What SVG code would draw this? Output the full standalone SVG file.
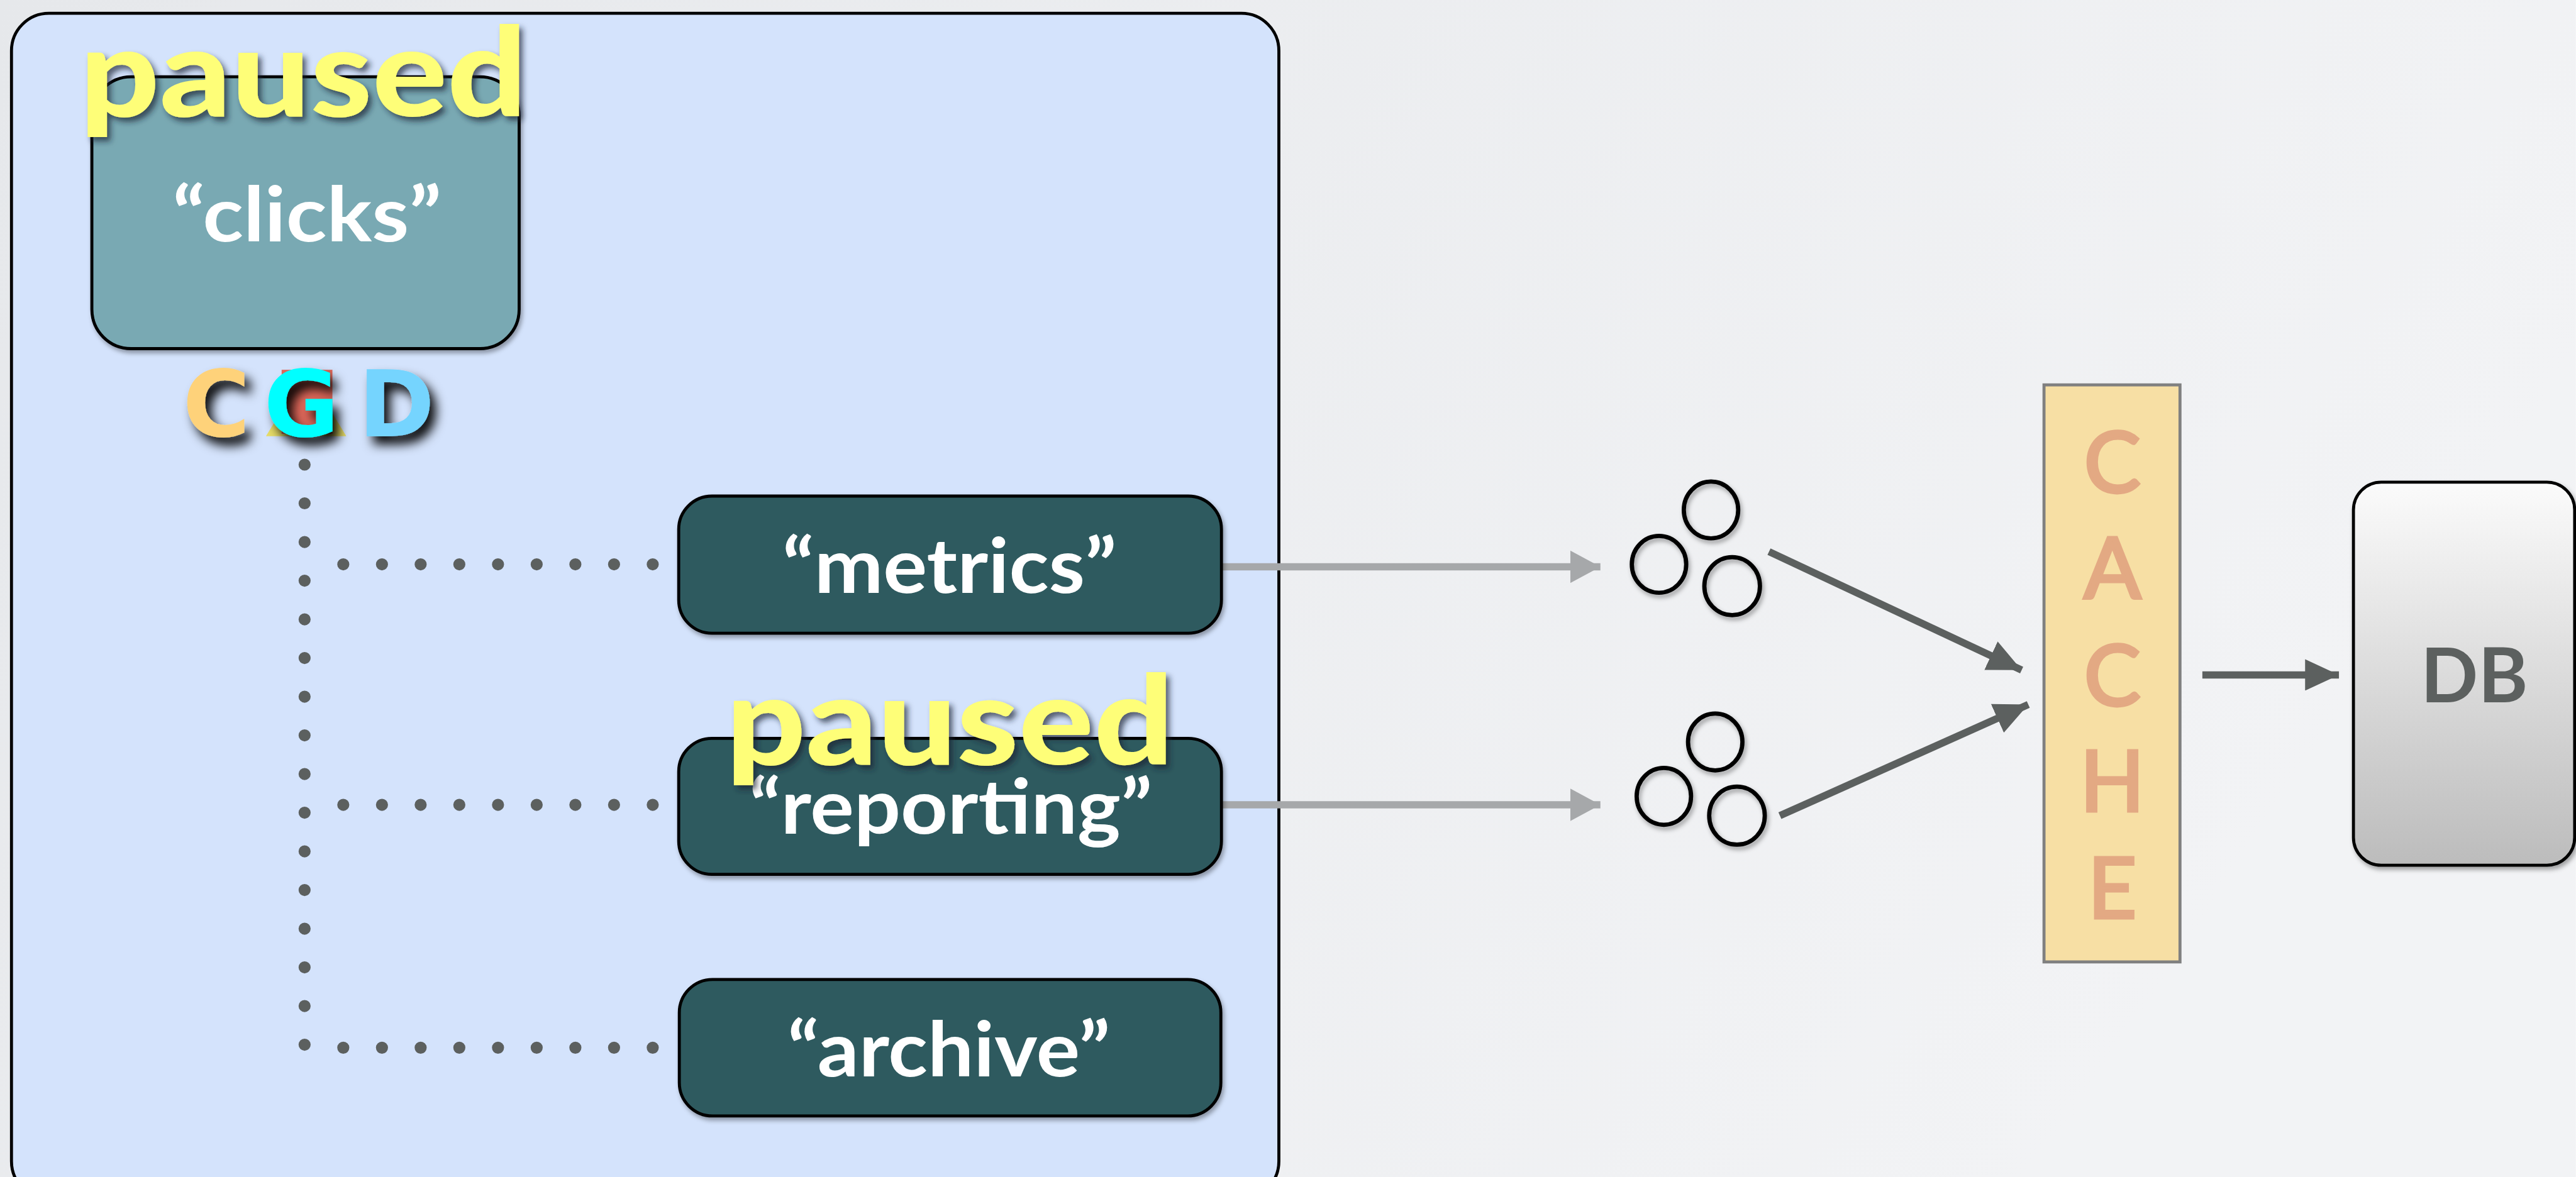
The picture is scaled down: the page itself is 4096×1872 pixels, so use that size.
<svg xmlns="http://www.w3.org/2000/svg" width="4096" height="1872" viewBox="0 0 4096 1872">
<defs>
<style>
.lbl{font-family:Lato,"Open Sans","Liberation Sans",sans-serif;font-weight:bold;fill:#ffffff;text-anchor:middle}
.paused{font-family:Lato,"Open Sans","Liberation Sans",sans-serif;font-weight:900;fill:#fefe78;text-anchor:start}
.cache{font-family:Lato,"Open Sans","Liberation Sans",sans-serif;font-weight:normal;fill:#e3a983;stroke:#e3a983;stroke-width:5;text-anchor:middle;font-size:140px}
.topic{fill:#2f5a5f;stroke:#000;stroke-width:5}
.dots{stroke:#5c605f;stroke-width:20;stroke-linecap:round;stroke-dasharray:0 64;fill:none}
.grey{stroke:#a6a8aa;stroke-width:12;fill:none}
.dark{stroke:#5c605f;stroke-width:12;fill:none}
.cg{fill:none;stroke:#000;stroke-width:7}
</style>
<linearGradient id="bg" x1="0" y1="0" x2="1" y2="0.3">
<stop offset="0" stop-color="#e6e8eb"/>
<stop offset="1" stop-color="#f2f3f5"/>
</linearGradient>
<linearGradient id="dbg" x1="0" y1="0" x2="0" y2="1">
<stop offset="0" stop-color="#fbfbfb"/>
<stop offset="1" stop-color="#bcbcbc"/>
</linearGradient>
<filter id="sh" x="-10%" y="-10%" width="130%" height="130%">
<feDropShadow dx="3" dy="5" stdDeviation="4" flood-color="#000" flood-opacity="0.35"/>
</filter>
<filter id="psh" x="-10%" y="-20%" width="130%" height="150%">
<feDropShadow dx="6" dy="7" stdDeviation="5" flood-color="#1a2430" flood-opacity="0.7"/>
</filter>
<filter id="cgdsh" x="-40%" y="-40%" width="190%" height="190%">
<feGaussianBlur in="SourceAlpha" stdDeviation="9"/>
<feOffset dx="10" dy="14" result="b"/>
<feFlood flood-color="#000" flood-opacity="0.95"/>
<feComposite in2="b" operator="in"/>
<feMerge><feMergeNode/><feMergeNode in="SourceGraphic"/></feMerge>
</filter>
<marker id="gh" viewBox="0 0 50 54" refX="50" refY="27" markerWidth="50" markerHeight="54" markerUnits="userSpaceOnUse" orient="auto">
<path d="M0,0 L50,27 L0,54 z" fill="#a6a8aa"/>
</marker>
<marker id="dh" viewBox="0 0 56 52" refX="56" refY="26" markerWidth="56" markerHeight="52" markerUnits="userSpaceOnUse" orient="auto">
<path d="M0,0 L56,26 L0,52 z" fill="#5c605f"/>
</marker>
</defs>
<g transform="scale(0.961)">
<rect x="0" y="0" width="4262" height="1948" fill="url(#bg)"/>

<g id="consumer-group">
<rect x="19" y="22" width="2097" height="1962" rx="62" ry="62" fill="#d4e3fc" stroke="#000" stroke-width="5"/>
</g>

<g id="clicks" filter="url(#sh)">
<rect x="152" y="127" width="707" height="450" rx="65" ry="65" fill="#79a9b3" stroke="#000" stroke-width="5"/>
<text class="lbl" x="508" y="400" font-size="126" textLength="445" lengthAdjust="spacingAndGlyphs">“clicks”</text>
</g>

<g id="cgd">
<polygon points="440,722 507,613 573,722" fill="#e6dc68"/>
<rect x="466" y="612" width="84" height="106" fill="#e0685a"/>
<g filter="url(#cgdsh)" font-family="'DejaVu Sans',sans-serif" font-weight="bold" font-size="152" text-anchor="middle">
<text x="358" y="722" fill="#fed27a">C</text>
<text x="499" y="722" fill="#00ffff">G</text>
<text x="656" y="722" fill="#75d4fe">D</text>
</g>
</g>

<g id="connectors">
<line class="dots" x1="504" y1="769" x2="504" y2="1731"/>
<line class="dots" x1="568" y1="934" x2="1081" y2="934"/>
<line class="dots" x1="568" y1="1332" x2="1081" y2="1332"/>
<line class="dots" x1="568" y1="1734" x2="1081" y2="1734"/>
<line class="grey" x1="2021" y1="938" x2="2648" y2="938" marker-end="url(#gh)"/>
<line class="grey" x1="2021" y1="1332" x2="2648" y2="1332" marker-end="url(#gh)"/>
<line class="dark" x1="2927" y1="913" x2="3345" y2="1109" marker-end="url(#dh)"/>
<line class="dark" x1="2945" y1="1350" x2="3356" y2="1166" marker-end="url(#dh)"/>
<line class="dark" stroke-width="13" x1="3644" y1="1117" x2="3870" y2="1117" marker-end="url(#dh)"/>
</g>

<g id="metrics" filter="url(#sh)">
<rect class="topic" x="1123" y="821" width="898" height="227" rx="55" ry="55"/>
<text class="lbl" x="1571" y="981" font-size="126" textLength="553" lengthAdjust="spacingAndGlyphs">“metrics”</text>
</g>

<g id="reporting" filter="url(#sh)">
<rect class="topic" x="1123" y="1222" width="898" height="225" rx="55" ry="55"/>
<text class="lbl" x="1573" y="1380" font-size="126" textLength="667" lengthAdjust="spacingAndGlyphs">“reporting”</text>
</g>

<g id="archive" filter="url(#sh)">
<rect class="topic" x="1124" y="1621" width="896" height="226" rx="55" ry="55"/>
<text class="lbl" x="1570" y="1781" font-size="126" textLength="534" lengthAdjust="spacingAndGlyphs">“archive”</text>
</g>

<g id="paused-clicks" filter="url(#psh)">
<text class="paused" x="132" y="192" font-size="204" textLength="740" lengthAdjust="spacingAndGlyphs">paused</text>
</g>
<g id="paused-reporting" filter="url(#psh)">
<text class="paused" x="1201" y="1265" font-size="204" textLength="741" lengthAdjust="spacingAndGlyphs">paused</text>
</g>

<g id="consumers-1" filter="url(#sh)">
<ellipse class="cg" cx="2831" cy="844" rx="45" ry="47"/>
<ellipse class="cg" cx="2745" cy="934" rx="45" ry="47"/>
<ellipse class="cg" cx="2866" cy="970" rx="46" ry="48"/>
</g>
<g id="consumers-2" filter="url(#sh)">
<ellipse class="cg" cx="2838" cy="1228" rx="45" ry="47"/>
<ellipse class="cg" cx="2753" cy="1318" rx="45" ry="47"/>
<ellipse class="cg" cx="2874" cy="1350" rx="46" ry="48"/>
</g>

<g id="cache">
<rect x="3382" y="637" width="225" height="955" fill="#f7dfa4" stroke="#808080" stroke-width="5"/>
<text class="cache" x="3495" y="815">C</text>
<text class="cache" x="3495" y="990">A</text>
<text class="cache" x="3495" y="1168">C</text>
<text class="cache" x="3495" y="1342">H</text>
<text class="cache" x="3495" y="1519">E</text>
</g>

<g id="db" filter="url(#sh)">
<rect x="3894" y="798" width="366" height="634" rx="46" ry="46" fill="url(#dbg)" stroke="#000" stroke-width="5"/>
<text x="4094" y="1162" font-family="Lato,'Open Sans','Liberation Sans',sans-serif" font-weight="bold" font-size="125" fill="#5c605f" text-anchor="middle">DB</text>
</g>
</g>
</svg>
